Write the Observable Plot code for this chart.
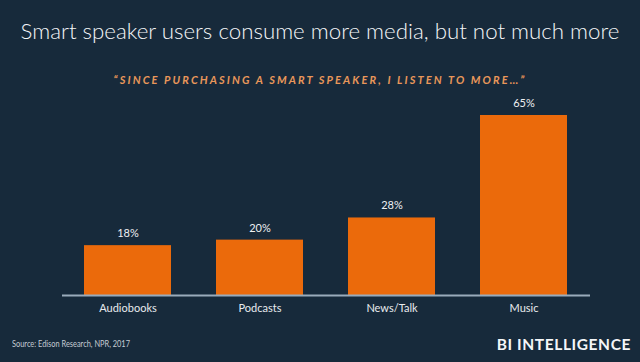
<!DOCTYPE html>
<html>
<head>
<meta charset="utf-8">
<script src="https://cdn.jsdelivr.net/npm/d3@7"></script>
<script src="https://cdn.jsdelivr.net/npm/@observablehq/plot@0.6"></script>
<style>
  html, body { margin: 0; padding: 0; background: #172a3b; }
  #wrap { position: relative; width: 640px; height: 362px; background: #172a3b; overflow: hidden; font-family: Lato, "Open Sans", sans-serif; }
  #title { position: absolute; left: 0; width: 640px; top: 18px; line-height: 1.2; text-align: center; color: #f4f6f8; font-size: 22.3px; font-weight: 300; white-space: nowrap; }
  #subtitle { position: absolute; left: 0; width: 640px; top: 73px; line-height: 1.2; text-align: center; color: #e9975a; font-size: 11px; font-weight: 700; font-style: italic; letter-spacing: 2.1px; white-space: nowrap; }
  #chart { position: absolute; left: 0; top: 90px; }
  #source { position: absolute; left: 12px; top: 338px; line-height: 1.2; color: #c5ccd4; font-size: 9.5px; transform: scaleX(0.78); transform-origin: left center; white-space: nowrap; }
  #brand { position: absolute; right: 9px; top: 335px; line-height: 1.2; color: #f4f6f8; font-size: 15.5px; font-weight: 700; letter-spacing: 0.6px; white-space: nowrap; }
</style>
</head>
<body>
<div id="wrap">
  <div id="title">Smart speaker users consume more media, but not much more</div>
  <div id="subtitle">“SINCE PURCHASING A SMART SPEAKER, I LISTEN TO MORE…”</div>
  <div id="chart"></div>
  <div id="source">Source: Edison Research, NPR, 2017</div>
  <div id="brand">BI INTELLIGENCE</div>
</div>
<script>
const categories = ["Audiobooks", "Podcasts", "News/Talk", "Music"];
const values = [18, 20, 28, 65];
const valueLabels = ["18%", "20%", "28%", "65%"];

const data = categories.map((c, i) => ({category: c, value: values[i], label: valueLabels[i]}));

const chart = Plot.plot({
  width: 640,
  height: 225,
  marginLeft: 62,
  marginRight: 50,
  marginTop: 25,
  marginBottom: 20,
  style: {background: "transparent", color: "#e8ebee", fontFamily: "Lato, 'Open Sans', sans-serif", fontSize: "11px"},
  x: {domain: categories, paddingInner: 0.34, paddingOuter: 0.17, label: null, tickSize: 0, tickPadding: 9},
  y: {domain: [0, 65], axis: null},
  marks: [
    Plot.barY(data, {x: "category", y: "value", fill: "#eb6a0b"}),
    Plot.ruleY([0], {stroke: "#9aabbb", strokeWidth: 2}),
    Plot.text(data, {x: "category", y: "value", text: "label", dy: -12, fill: "#eef0f2", fontSize: 11})
  ]
});
document.getElementById("chart").appendChild(chart);
</script>
</body>
</html>
